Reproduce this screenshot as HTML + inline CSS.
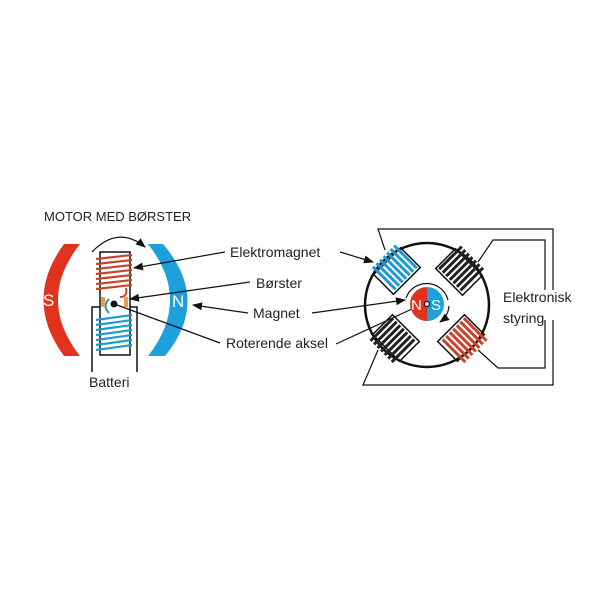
<!DOCTYPE html>
<html><head><style>body{margin:0;background:#fff}svg{display:block}text{font-family:"Liberation Sans",sans-serif}</style></head><body>
<svg width="600" height="600" viewBox="0 0 600 600" xmlns="http://www.w3.org/2000/svg">
<defs>
<marker id="ah" markerWidth="10" markerHeight="8" refX="9" refY="4" orient="auto" markerUnits="userSpaceOnUse"><path d="M0,0 L10,4 L0,8 Z" fill="#111"/></marker>
</defs>
<text x="44" y="221" font-size="13" fill="#222">MOTOR MED BØRSTER</text>
<!-- magnets -->
<path d="M64,244 L80,244 Q36,300 80,356 L64,356 Q23,300 64,244 Z" fill="#e0321c"/>
<text x="43" y="306" font-size="17" fill="#fff">S</text>
<path d="M148,244 L163,244 Q211,300 165,356 L148,356 Q192,300 148,244 Z" fill="#1ea0dc"/>
<text x="172" y="307" font-size="17" fill="#fff">N</text>
<path d="M92,252 Q118,225 145,247" fill="none" stroke="#111" stroke-width="1.2" marker-end="url(#ah)"/>
<!-- battery -->
<path d="M92,372 L92,307 L100,307 M130,307 L137,307 L137,372" fill="none" stroke="#111" stroke-width="1.5"/>
<rect x="100" y="252" width="30" height="103" fill="none" stroke="#111" stroke-width="1.5"/>
<g stroke="#c8442a" stroke-width="2.2">
<line x1="96" y1="259" x2="132" y2="255"/><line x1="96" y1="264" x2="132" y2="260"/><line x1="96" y1="269" x2="132" y2="265"/><line x1="96" y1="274" x2="132" y2="270"/><line x1="96" y1="279" x2="132" y2="275"/><line x1="96" y1="284" x2="132" y2="280"/><line x1="96" y1="289" x2="132" y2="285"/>
</g>
<path d="M126,288 Q128,297 120,297" stroke="#c8442a" stroke-width="2" fill="none"/>
<g stroke="#1d9bd0" stroke-width="2.2">
<line x1="96" y1="320" x2="132" y2="315"/><line x1="96" y1="325" x2="132" y2="320"/><line x1="96" y1="330" x2="132" y2="325"/><line x1="96" y1="335" x2="132" y2="330"/><line x1="96" y1="340" x2="132" y2="335"/><line x1="96" y1="345" x2="132" y2="340"/><line x1="96" y1="350" x2="132" y2="345"/>
</g>
<path d="M109,299 Q102,306 109,313" stroke="#1d9bd0" stroke-width="2" fill="none"/>
<rect x="101" y="297" width="4" height="10" fill="#e8a050"/>
<rect x="124" y="297" width="4" height="10" fill="#e8a050"/>
<circle cx="114" cy="304" r="3.5" fill="#111"/>
<text x="89" y="387" font-size="14" fill="#222">Batteri</text>
<!-- labels -->
<g font-size="14" fill="#222">
<text x="230" y="257">Elektromagnet</text>
<text x="256" y="288">Børster</text>
<text x="253" y="318">Magnet</text>
<text x="226" y="348">Roterende aksel</text>
<text x="503" y="302">Elektronisk</text>
<text x="503" y="323">styring</text>
</g>
<g stroke="#111" stroke-width="1.2" fill="none">
<line x1="225" y1="252" x2="134" y2="268" marker-end="url(#ah)"/>
<line x1="340" y1="252" x2="373" y2="262" marker-end="url(#ah)"/>
<line x1="250" y1="282" x2="130" y2="299" marker-end="url(#ah)"/>
<line x1="248" y1="313" x2="193" y2="305" marker-end="url(#ah)"/>
<line x1="312" y1="313" x2="405" y2="300" marker-end="url(#ah)"/>
<line x1="220" y1="343" x2="117" y2="305"/>
<line x1="336" y1="344" x2="425" y2="303"/>
</g>
<!-- right motor frame -->
<g stroke="#111" stroke-width="1.2" fill="none">
<path d="M385,250 L378,229 L553,229 L553,290 M553,320 L553,385 L363,385 L378,350"/>
<path d="M478,262 L493,240 L545,240 L545,290 M545,320 L545,368 L498,368 L478,350"/>
</g>
<circle cx="427" cy="305" r="62" fill="none" stroke="#111" stroke-width="2.5"/>
<!-- coils -->
<g transform="translate(397,271) rotate(45)">
<rect x="-14" y="-19" width="28" height="38" fill="none" stroke="#111" stroke-width="1.5"/>
<g stroke="#1d9bd0" stroke-width="3"><line x1="-20" y1="-16" x2="12" y2="-16"/><line x1="-20" y1="-11" x2="12" y2="-11"/><line x1="-20" y1="-6" x2="12" y2="-6"/><line x1="-20" y1="-1" x2="12" y2="-1"/><line x1="-20" y1="4" x2="12" y2="4"/><line x1="-20" y1="9" x2="12" y2="9"/><line x1="-20" y1="14" x2="12" y2="14"/></g>
</g>
<g transform="translate(459,272) rotate(-45)">
<rect x="-14" y="-19" width="28" height="38" fill="none" stroke="#111" stroke-width="1.5"/>
<g stroke="#222" stroke-width="3"><line x1="-12" y1="-16" x2="20" y2="-16"/><line x1="-12" y1="-11" x2="20" y2="-11"/><line x1="-12" y1="-6" x2="20" y2="-6"/><line x1="-12" y1="-1" x2="20" y2="-1"/><line x1="-12" y1="4" x2="20" y2="4"/><line x1="-12" y1="9" x2="20" y2="9"/><line x1="-12" y1="14" x2="20" y2="14"/></g>
</g>
<g transform="translate(396,338) rotate(-45)">
<rect x="-14" y="-19" width="28" height="38" fill="none" stroke="#111" stroke-width="1.5"/>
<g stroke="#222" stroke-width="3"><line x1="-20" y1="-16" x2="12" y2="-16"/><line x1="-20" y1="-11" x2="12" y2="-11"/><line x1="-20" y1="-6" x2="12" y2="-6"/><line x1="-20" y1="-1" x2="12" y2="-1"/><line x1="-20" y1="4" x2="12" y2="4"/><line x1="-20" y1="9" x2="12" y2="9"/><line x1="-20" y1="14" x2="12" y2="14"/></g>
</g>
<g transform="translate(461,338) rotate(45)">
<rect x="-14" y="-19" width="28" height="38" fill="none" stroke="#111" stroke-width="1.5"/>
<g stroke="#c8442a" stroke-width="3"><line x1="-12" y1="-16" x2="20" y2="-16"/><line x1="-12" y1="-11" x2="20" y2="-11"/><line x1="-12" y1="-6" x2="20" y2="-6"/><line x1="-12" y1="-1" x2="20" y2="-1"/><line x1="-12" y1="4" x2="20" y2="4"/><line x1="-12" y1="9" x2="20" y2="9"/><line x1="-12" y1="14" x2="20" y2="14"/></g>
</g>
<!-- center magnet -->
<path d="M406,298 A22,22 0 0 1 448,300" stroke="#111" stroke-width="1.2" fill="none"/>
<path d="M449,306 A22,22 0 0 1 440,322" stroke="#111" stroke-width="1.2" fill="none" marker-end="url(#ah)"/>
<path d="M427,287 A17,17 0 0 0 427,321 Z" fill="#e0321c"/>
<path d="M427,287 A17,17 0 0 1 427,321 Z" fill="#1ea0dc"/>
<text x="411" y="310" font-size="15" fill="#fff">N</text>
<text x="431" y="310" font-size="15" fill="#fff">S</text>
<circle cx="427" cy="304" r="2.5" fill="#fff" stroke="#111" stroke-width="1.2"/>
</svg>
</body></html>
